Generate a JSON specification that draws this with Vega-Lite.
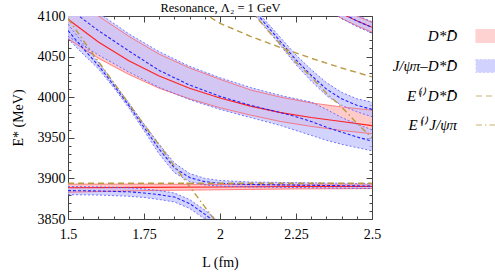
{
  "$schema": "https://vega.github.io/schema/vega-lite/v6.json",
  "width": 304,
  "height": 203,
  "autosize": {"type": "none"},
  "padding": {"left": 68, "top": 16, "right": 123, "bottom": 54},
  "background": "white",
  "config": {
    "view": {"stroke": "#444", "strokeWidth": 1},
    "axis": {"domain": false, "grid": false, "labelFont": "Liberation Serif", "labelFontSize": 14, "labelColor": "black", "titleFont": "Liberation Serif", "titleFontSize": 14, "titleFontWeight": "normal", "titleColor": "black", "tickColor": "#444", "tickWidth": 1},
    "legend": {"orient": "none", "legendX": 407, "legendY": 9, "labelAlign": "right", "labelOffset": -40, "labelFont": "Liberation Serif", "labelFontSize": 15, "labelFontStyle": "italic", "labelColor": "black", "symbolSize": 400, "rowPadding": 10, "padding": 0, "title": null}
  },
  "datasets": {
    "bands": [
      {"s": "D*D̄", "k": "R1", "L": 1.5, "lo": 3883, "m": 3888.5, "hi": 3893},
      {"s": "D*D̄", "k": "R1", "L": 1.75, "lo": 3885, "m": 3889, "hi": 3893},
      {"s": "D*D̄", "k": "R1", "L": 2.0, "lo": 3886, "m": 3889.5, "hi": 3892.5},
      {"s": "D*D̄", "k": "R1", "L": 2.25, "lo": 3887, "m": 3890, "hi": 3892},
      {"s": "D*D̄", "k": "R1", "L": 2.5, "lo": 3887.5, "m": 3890, "hi": 3892},
      {"s": "D*D̄", "k": "R2", "L": 1.5, "lo": 4072, "m": 4096, "hi": 4125},
      {"s": "D*D̄", "k": "R2", "L": 1.6, "lo": 4048, "m": 4068, "hi": 4100},
      {"s": "D*D̄", "k": "R2", "L": 1.7, "lo": 4028, "m": 4045, "hi": 4075},
      {"s": "D*D̄", "k": "R2", "L": 1.8, "lo": 4011, "m": 4026, "hi": 4053},
      {"s": "D*D̄", "k": "R2", "L": 1.9, "lo": 3998, "m": 4011, "hi": 4036},
      {"s": "D*D̄", "k": "R2", "L": 2.0, "lo": 3987, "m": 3999, "hi": 4022},
      {"s": "D*D̄", "k": "R2", "L": 2.1, "lo": 3978, "m": 3989, "hi": 4009},
      {"s": "D*D̄", "k": "R2", "L": 2.2, "lo": 3970, "m": 3981, "hi": 4000},
      {"s": "D*D̄", "k": "R2", "L": 2.3, "lo": 3964, "m": 3975, "hi": 3993},
      {"s": "D*D̄", "k": "R2", "L": 2.4, "lo": 3959, "m": 3970, "hi": 3988},
      {"s": "D*D̄", "k": "R2", "L": 2.5, "lo": 3955, "m": 3965, "hi": 3984},
      {"s": "D*D̄", "k": "R3", "L": 2.3, "lo": 4122, "m": 4128, "hi": 4134},
      {"s": "D*D̄", "k": "R3", "L": 2.35, "lo": 4109, "m": 4115, "hi": 4121},
      {"s": "D*D̄", "k": "R3", "L": 2.4, "lo": 4097, "m": 4103, "hi": 4109},
      {"s": "D*D̄", "k": "R3", "L": 2.45, "lo": 4088, "m": 4094, "hi": 4100},
      {"s": "D*D̄", "k": "R3", "L": 2.5, "lo": 4080, "m": 4086, "hi": 4092},
      {"s": "J/ψπ–D*D̄", "k": "B1", "L": 1.5, "lo": 3880, "m": 3885, "hi": 3890},
      {"s": "J/ψπ–D*D̄", "k": "B1", "L": 1.6, "lo": 3879.5, "m": 3884.5, "hi": 3889.5},
      {"s": "J/ψπ–D*D̄", "k": "B1", "L": 1.7, "lo": 3878, "m": 3883.5, "hi": 3888.5},
      {"s": "J/ψπ–D*D̄", "k": "B1", "L": 1.75, "lo": 3876.5, "m": 3882, "hi": 3887},
      {"s": "J/ψπ–D*D̄", "k": "B1", "L": 1.8, "lo": 3874, "m": 3880, "hi": 3885},
      {"s": "J/ψπ–D*D̄", "k": "B1", "L": 1.85, "lo": 3871, "m": 3877, "hi": 3882},
      {"s": "J/ψπ–D*D̄", "k": "B1", "L": 1.9, "lo": 3863, "m": 3869, "hi": 3874},
      {"s": "J/ψπ–D*D̄", "k": "B1", "L": 1.95, "lo": 3850, "m": 3856, "hi": 3861},
      {"s": "J/ψπ–D*D̄", "k": "B1", "L": 2.0, "lo": 3835, "m": 3841, "hi": 3846},
      {"s": "J/ψπ–D*D̄", "k": "B2", "L": 1.5, "lo": 4072, "m": 4082, "hi": 4090},
      {"s": "J/ψπ–D*D̄", "k": "B2", "L": 1.55, "lo": 4053, "m": 4060, "hi": 4066},
      {"s": "J/ψπ–D*D̄", "k": "B2", "L": 1.6, "lo": 4035, "m": 4039, "hi": 4043},
      {"s": "J/ψπ–D*D̄", "k": "B2", "L": 1.65, "lo": 4012, "m": 4015, "hi": 4018},
      {"s": "J/ψπ–D*D̄", "k": "B2", "L": 1.7, "lo": 3987, "m": 3990, "hi": 3993},
      {"s": "J/ψπ–D*D̄", "k": "B2", "L": 1.75, "lo": 3959, "m": 3963, "hi": 3967},
      {"s": "J/ψπ–D*D̄", "k": "B2", "L": 1.8, "lo": 3930, "m": 3936, "hi": 3942},
      {"s": "J/ψπ–D*D̄", "k": "B2", "L": 1.85, "lo": 3907, "m": 3913, "hi": 3919},
      {"s": "J/ψπ–D*D̄", "k": "B2", "L": 1.9, "lo": 3896, "m": 3901, "hi": 3906},
      {"s": "J/ψπ–D*D̄", "k": "B2", "L": 1.95, "lo": 3892, "m": 3896, "hi": 3900},
      {"s": "J/ψπ–D*D̄", "k": "B2", "L": 2.0, "lo": 3890.5, "m": 3894, "hi": 3897.5},
      {"s": "J/ψπ–D*D̄", "k": "B2", "L": 2.1, "lo": 3889.5, "m": 3892.5, "hi": 3895.5},
      {"s": "J/ψπ–D*D̄", "k": "B2", "L": 2.2, "lo": 3889, "m": 3892, "hi": 3895},
      {"s": "J/ψπ–D*D̄", "k": "B2", "L": 2.3, "lo": 3888.5, "m": 3891.5, "hi": 3894.5},
      {"s": "J/ψπ–D*D̄", "k": "B2", "L": 2.4, "lo": 3888, "m": 3891, "hi": 3894},
      {"s": "J/ψπ–D*D̄", "k": "B2", "L": 2.5, "lo": 3887.5, "m": 3890.5, "hi": 3893.5},
      {"s": "J/ψπ–D*D̄", "k": "B3", "L": 1.5, "lo": 4075, "m": 4110, "hi": 4140},
      {"s": "J/ψπ–D*D̄", "k": "B3", "L": 1.6, "lo": 4052, "m": 4082, "hi": 4104},
      {"s": "J/ψπ–D*D̄", "k": "B3", "L": 1.7, "lo": 4031, "m": 4057, "hi": 4078},
      {"s": "J/ψπ–D*D̄", "k": "B3", "L": 1.8, "lo": 4012, "m": 4033, "hi": 4056},
      {"s": "J/ψπ–D*D̄", "k": "B3", "L": 1.9, "lo": 3997, "m": 4015, "hi": 4038},
      {"s": "J/ψπ–D*D̄", "k": "B3", "L": 2.0, "lo": 3985, "m": 4001, "hi": 4024},
      {"s": "J/ψπ–D*D̄", "k": "B3", "L": 2.1, "lo": 3975, "m": 3990, "hi": 4012},
      {"s": "J/ψπ–D*D̄", "k": "B3", "L": 2.2, "lo": 3965, "m": 3981, "hi": 4002},
      {"s": "J/ψπ–D*D̄", "k": "B3", "L": 2.25, "lo": 3959, "m": 3976, "hi": 3998},
      {"s": "J/ψπ–D*D̄", "k": "B3", "L": 2.3, "lo": 3953, "m": 3970, "hi": 3994},
      {"s": "J/ψπ–D*D̄", "k": "B3", "L": 2.35, "lo": 3947, "m": 3963, "hi": 3985},
      {"s": "J/ψπ–D*D̄", "k": "B3", "L": 2.4, "lo": 3942, "m": 3957, "hi": 3975},
      {"s": "J/ψπ–D*D̄", "k": "B3", "L": 2.45, "lo": 3938, "m": 3951, "hi": 3967},
      {"s": "J/ψπ–D*D̄", "k": "B3", "L": 2.5, "lo": 3934, "m": 3946, "hi": 3960},
      {"s": "J/ψπ–D*D̄", "k": "B4", "L": 2.1, "lo": 4108, "m": 4112, "hi": 4116},
      {"s": "J/ψπ–D*D̄", "k": "B4", "L": 2.15, "lo": 4086, "m": 4090, "hi": 4094},
      {"s": "J/ψπ–D*D̄", "k": "B4", "L": 2.2, "lo": 4063, "m": 4068, "hi": 4073},
      {"s": "J/ψπ–D*D̄", "k": "B4", "L": 2.25, "lo": 4040, "m": 4046, "hi": 4052},
      {"s": "J/ψπ–D*D̄", "k": "B4", "L": 2.3, "lo": 4020, "m": 4027, "hi": 4034},
      {"s": "J/ψπ–D*D̄", "k": "B4", "L": 2.35, "lo": 4002, "m": 4010, "hi": 4018},
      {"s": "J/ψπ–D*D̄", "k": "B4", "L": 2.4, "lo": 3990, "m": 3998, "hi": 4006},
      {"s": "J/ψπ–D*D̄", "k": "B4", "L": 2.45, "lo": 3982, "m": 3990, "hi": 3998},
      {"s": "J/ψπ–D*D̄", "k": "B4", "L": 2.5, "lo": 3976, "m": 3985, "hi": 3994},
      {"s": "J/ψπ–D*D̄", "k": "B5", "L": 2.3, "lo": 4121, "m": 4128, "hi": 4136},
      {"s": "J/ψπ–D*D̄", "k": "B5", "L": 2.35, "lo": 4110, "m": 4118, "hi": 4125},
      {"s": "J/ψπ–D*D̄", "k": "B5", "L": 2.4, "lo": 4097, "m": 4104, "hi": 4111},
      {"s": "J/ψπ–D*D̄", "k": "B5", "L": 2.45, "lo": 4087, "m": 4094, "hi": 4101},
      {"s": "J/ψπ–D*D̄", "k": "B5", "L": 2.5, "lo": 4079, "m": 4086, "hi": 4093}
    ],
    "free": [
      {"s": "E⁽ˡ⁾ D*D̄", "k": "F0", "L": 1.5, "E": 3894},
      {"s": "E⁽ˡ⁾ D*D̄", "k": "F0", "L": 2.5, "E": 3894},
      {"s": "E⁽ˡ⁾ D*D̄", "k": "F1", "L": 1.94, "E": 4105},
      {"s": "E⁽ˡ⁾ D*D̄", "k": "F1", "L": 2.0, "E": 4091},
      {"s": "E⁽ˡ⁾ D*D̄", "k": "F1", "L": 2.1, "E": 4075},
      {"s": "E⁽ˡ⁾ D*D̄", "k": "F1", "L": 2.2, "E": 4061},
      {"s": "E⁽ˡ⁾ D*D̄", "k": "F1", "L": 2.3, "E": 4048},
      {"s": "E⁽ˡ⁾ D*D̄", "k": "F1", "L": 2.4, "E": 4036},
      {"s": "E⁽ˡ⁾ D*D̄", "k": "F1", "L": 2.5, "E": 4025},
      {"s": "E⁽ˡ⁾ J/ψπ", "k": "F2", "L": 1.5, "E": 4097},
      {"s": "E⁽ˡ⁾ J/ψπ", "k": "F2", "L": 1.55, "E": 4070},
      {"s": "E⁽ˡ⁾ J/ψπ", "k": "F2", "L": 1.6, "E": 4044},
      {"s": "E⁽ˡ⁾ J/ψπ", "k": "F2", "L": 1.65, "E": 4018},
      {"s": "E⁽ˡ⁾ J/ψπ", "k": "F2", "L": 1.7, "E": 3992},
      {"s": "E⁽ˡ⁾ J/ψπ", "k": "F2", "L": 1.75, "E": 3966},
      {"s": "E⁽ˡ⁾ J/ψπ", "k": "F2", "L": 1.8, "E": 3941},
      {"s": "E⁽ˡ⁾ J/ψπ", "k": "F2", "L": 1.85, "E": 3915},
      {"s": "E⁽ˡ⁾ J/ψπ", "k": "F2", "L": 1.9, "E": 3890},
      {"s": "E⁽ˡ⁾ J/ψπ", "k": "F2", "L": 1.95, "E": 3865},
      {"s": "E⁽ˡ⁾ J/ψπ", "k": "F2", "L": 2.0, "E": 3840},
      {"s": "E⁽ˡ⁾ J/ψπ", "k": "F3", "L": 2.1, "E": 4108},
      {"s": "E⁽ˡ⁾ J/ψπ", "k": "F3", "L": 2.15, "E": 4085},
      {"s": "E⁽ˡ⁾ J/ψπ", "k": "F3", "L": 2.2, "E": 4065},
      {"s": "E⁽ˡ⁾ J/ψπ", "k": "F3", "L": 2.25, "E": 4043},
      {"s": "E⁽ˡ⁾ J/ψπ", "k": "F3", "L": 2.3, "E": 4025},
      {"s": "E⁽ˡ⁾ J/ψπ", "k": "F3", "L": 2.35, "E": 4005},
      {"s": "E⁽ˡ⁾ J/ψπ", "k": "F3", "L": 2.4, "E": 3988},
      {"s": "E⁽ˡ⁾ J/ψπ", "k": "F3", "L": 2.45, "E": 3968},
      {"s": "E⁽ˡ⁾ J/ψπ", "k": "F3", "L": 2.5, "E": 3950}
    ]
  },
  "resolve": {"axis": {"x": "independent", "y": "independent"}},
  "layer": [
    {
      "data": {"name": "bands"},
      "transform": [{"filter": "datum.s === 'D*D̄'"}],
      "mark": {"type": "area", "clip": true, "opacity": 0.9},
      "encoding": {
        "x": {"field": "L", "type": "quantitative", "scale": {"domain": [1.5, 2.5], "nice": false, "zero": false},
          "axis": {"orient": "bottom", "title": "L (fm)", "titlePadding": 14, "values": [1.5,1.55,1.6,1.65,1.7,1.75,1.8,1.85,1.9,1.95,2,2.05,2.1,2.15,2.2,2.25,2.3,2.35,2.4,2.45,2.5],
            "labelExpr": "abs(datum.value*4-round(datum.value*4))<0.001 ? format(datum.value,'~g') : ''",
            "tickSize": {"condition": {"test": "abs(datum.value*4-round(datum.value*4))<0.001", "value": -6}, "value": -3}, "labelPadding": 14, "labelFlush": false}},
        "y": {"field": "lo", "type": "quantitative", "scale": {"domain": [3850, 4100], "nice": false, "zero": false},
          "axis": {"orient": "left", "title": "E* (MeV)", "titlePadding": 12, "values": [3850,3860,3870,3880,3890,3900,3910,3920,3930,3940,3950,3960,3970,3980,3990,4000,4010,4020,4030,4040,4050,4060,4070,4080,4090,4100],
            "labelExpr": "datum.value % 50 === 0 ? format(datum.value,'d') : ''",
            "tickSize": {"condition": {"test": "datum.value % 50 === 0", "value": -6}, "value": -3}, "labelPadding": 9, "labelFlush": false}},
        "y2": {"field": "hi"},
        "detail": {"field": "k"},
        "color": {"field": "s", "type": "nominal",
          "scale": {"domain": ["D*D̄", "J/ψπ–D*D̄", "E⁽ˡ⁾ D*D̄", "E⁽ˡ⁾ J/ψπ"], "range": ["#ffc4c4", "#c4c4ff", "#bb9944", "#bb9944"]},
          "legend": {
            "symbolType": {"expr": "datum.index < 2 ? 'M-1,-0.65H1V0.65H-1Z' : 'stroke'"},
            "symbolStrokeColor": {"expr": "datum.index === 0 ? '#ff4040' : datum.index === 1 ? '#4444ff' : '#bb9944'"},
            "symbolDash": {"expr": "datum.index === 1 ? [2,2] : datum.index === 2 ? [6,4] : datum.index === 3 ? [6,3,1.5,3] : [1,0]"},
            "symbolStrokeWidth": 1.2,
            "symbolOpacity": 1
          }}
      }
    },
    {
      "data": {"name": "bands"},
      "transform": [{"filter": "datum.s !== 'D*D̄'"}],
      "mark": {"type": "area", "clip": true, "opacity": 0.75},
      "encoding": {
        "x": {"field": "L", "type": "quantitative",
          "axis": {"orient": "top", "title": "Resonance, Λ₂ = 1 GeV", "titleFontSize": 12.5, "titlePadding": 1, "values": [1.5,1.55,1.6,1.65,1.7,1.75,1.8,1.85,1.9,1.95,2,2.05,2.1,2.15,2.2,2.25,2.3,2.35,2.4,2.45,2.5], "labels": false,
            "tickSize": {"condition": {"test": "abs(datum.value*4-round(datum.value*4))<0.001", "value": -6}, "value": -3}}},
        "y": {"field": "lo", "type": "quantitative",
          "axis": {"orient": "right", "title": null, "values": [3850,3860,3870,3880,3890,3900,3910,3920,3930,3940,3950,3960,3970,3980,3990,4000,4010,4020,4030,4040,4050,4060,4070,4080,4090,4100], "labels": false,
            "tickSize": {"condition": {"test": "datum.value % 50 === 0", "value": -6}, "value": -3}}},
        "y2": {"field": "hi"},
        "detail": {"field": "k"},
        "color": {"field": "s", "type": "nominal"}
      }
    },
    {
      "data": {"name": "bands"},
      "transform": [{"filter": "datum.s === 'D*D̄'"}, {"fold": ["lo", "hi"], "as": ["edge", "v"]}],
      "mark": {"type": "line", "clip": true, "color": "#ff5555", "strokeWidth": 0.7},
      "encoding": {
        "x": {"field": "L", "type": "quantitative", "axis": null},
        "y": {"field": "v", "type": "quantitative", "axis": null},
        "detail": [{"field": "k"}, {"field": "edge"}]
      }
    },
    {
      "data": {"name": "bands"},
      "transform": [{"filter": "datum.s === 'D*D̄'"}],
      "mark": {"type": "line", "clip": true, "color": "#ff2020", "strokeWidth": 1.1},
      "encoding": {
        "x": {"field": "L", "type": "quantitative", "axis": null},
        "y": {"field": "m", "type": "quantitative", "axis": null},
        "detail": {"field": "k"}
      }
    },
    {
      "data": {"name": "bands"},
      "transform": [{"filter": "datum.s !== 'D*D̄'"}, {"fold": ["lo", "hi"], "as": ["edge", "v"]}],
      "mark": {"type": "line", "clip": true, "color": "#5555ff", "strokeWidth": 0.8, "strokeDash": [2, 2]},
      "encoding": {
        "x": {"field": "L", "type": "quantitative", "axis": null},
        "y": {"field": "v", "type": "quantitative", "axis": null},
        "detail": [{"field": "k"}, {"field": "edge"}]
      }
    },
    {
      "data": {"name": "bands"},
      "transform": [{"filter": "datum.s !== 'D*D̄'"}],
      "mark": {"type": "line", "clip": true, "color": "#2222ff", "strokeWidth": 1.1, "strokeDash": [3, 2]},
      "encoding": {
        "x": {"field": "L", "type": "quantitative", "axis": null},
        "y": {"field": "m", "type": "quantitative", "axis": null},
        "detail": {"field": "k"}
      }
    },
    {
      "data": {"name": "free"},
      "mark": {"type": "line", "clip": true, "strokeWidth": 1.4},
      "encoding": {
        "x": {"field": "L", "type": "quantitative", "axis": null},
        "y": {"field": "E", "type": "quantitative", "axis": null},
        "detail": {"field": "k"},
        "color": {"field": "s", "type": "nominal"},
        "strokeDash": {"field": "s", "type": "nominal", "legend": null,
          "scale": {"domain": ["E⁽ˡ⁾ D*D̄", "E⁽ˡ⁾ J/ψπ"], "range": [[6, 4], [6, 3, 1.5, 3]]}}
      }
    }
  ]
}
